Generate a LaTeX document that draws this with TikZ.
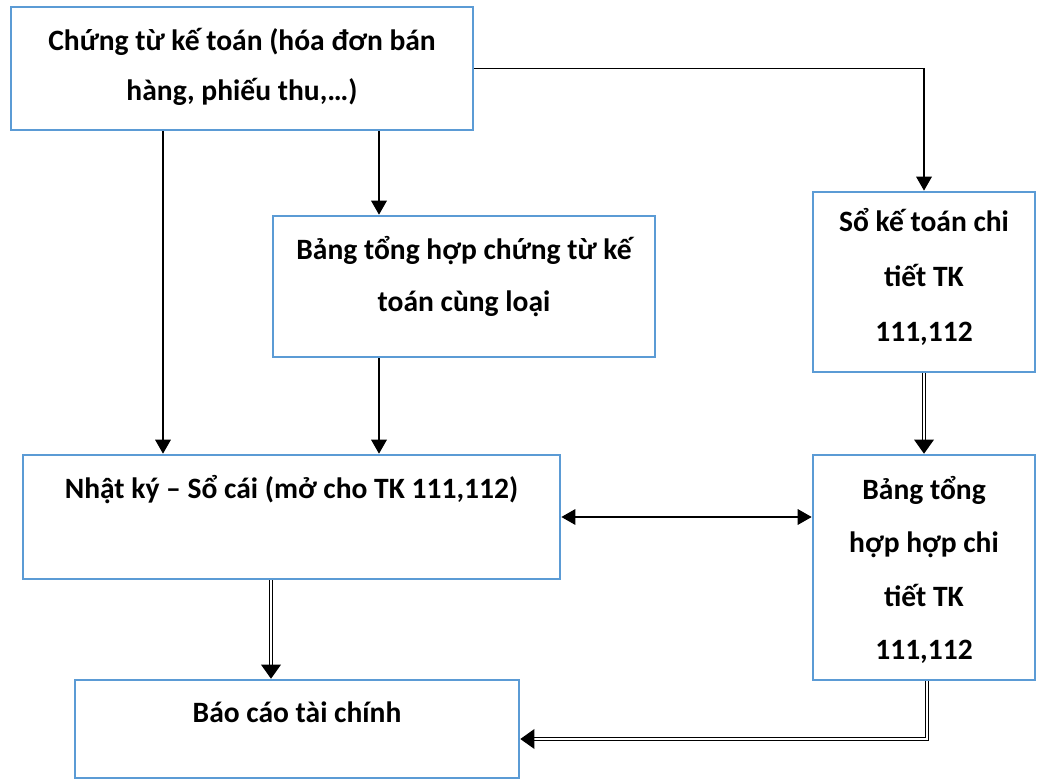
\documentclass[tikz,border=0pt]{standalone}
\usepackage{fontspec}
\setmainfont{Carlito}
\usepackage{tikz}
\usetikzlibrary{arrows.meta}
\definecolor{boxblue}{HTML}{5B9BD5}
\tikzset{
  acc_text/.style = {align=center, inner sep=0pt, text centered,
    font=\fontsize{21}{37}\selectfont\bfseries},% texte des cases
  acc_box/.style = {rectangle, draw=boxblue, line width=1.8pt},% case du schema
  single_arrow/.style = {draw=black, line width=1.4pt,
    -{Triangle[width=11pt,length=10pt]}},% fleche simple
  both_arrow/.style = {single_arrow, {Triangle[width=11pt,length=10pt]}-{Triangle[width=11pt,length=10pt]}},% fleche double sens
  double_arrow/.style = {draw=black, line width=1pt, double, double distance=1.4pt,
    -{Triangle[width=14pt,length=10pt]}}% fleche a trait double
}
\begin{document}
\begin{tikzpicture}[x=0.025cm, y=-0.025cm]
  \useasboundingbox (0,0) rectangle (1037,780);
  % cases
  \node [acc_box, minimum width=11.55cm, minimum height=3.075cm,
    label={[acc_text, font=\fontsize{21}{35.5}\selectfont\bfseries, yshift=0.03cm]center:{Chứng từ kế toán (hóa đơn bán\\hàng, phiếu thu,…)}}]
    (ctkt) at (242,68.5) {};
  \node [acc_box, minimum width=9.55cm, minimum height=3.525cm,
    label={[acc_text, yshift=0.25cm]center:{Bảng tổng hợp chứng từ kế\\toán cùng loại}}]
    (bthct) at (464,286.5) {};
  \node [acc_box, minimum width=5.55cm, minimum height=4.5cm,
    label={[acc_text, font=\fontsize{21}{39}\selectfont\bfseries, yshift=0.12cm]center:{Sổ kế toán chi\\tiết TK\\111,112}}]
    (sktt) at (924,282) {};
  \node [acc_box, minimum width=13.425cm, minimum height=3.1cm,
    label={[acc_text, yshift=0.68cm]center:{Nhật ký – Sổ cái (mở cho TK 111,112)}}]
    (nksc) at (291.5,517) {};
  \node [acc_box, minimum width=5.55cm, minimum height=5.625cm,
    label={[acc_text, font=\fontsize{21}{38}\selectfont\bfseries, yshift=-0.06cm]center:{Bảng tổng\\hợp hợp chi\\tiết TK\\111,112}}]
    (bthtt) at (924,567.5) {};
  \node [acc_box, minimum width=11.1cm, minimum height=2.45cm,
    label={[acc_text, yshift=0.42cm]center:{Báo cáo tài chính}}]
    (bctc) at (297,729) {};
  % points de passage
  \coordinate (c1) at (163,0);
  \coordinate (c2) at (379,0);
  \coordinate (c3) at (271,0);
  \coordinate (corner) at (927,739);
  % fleches
  \draw [single_arrow] (ctkt.south -| c1) -- (nksc.north -| c1);
  \draw [single_arrow] (ctkt.south -| c2) -- (bthct.north -| c2);
  \draw [single_arrow] (bthct.south -| c2) -- (nksc.north -| c2);
  \draw [line width=0.7pt] (ctkt.east) -- (ctkt.east -| sktt.north);
  \draw [single_arrow] (ctkt.east -| sktt.north) -- (sktt.north);
  \draw [double_arrow] (sktt.south) -- (bthtt.north);
  \draw [both_arrow] (nksc.east) -- (nksc.east -| bthtt.west);
  \draw [double_arrow] (nksc.south -| c3) -- (bctc.north -| c3);
  \draw [double_arrow] (bthtt.south -| corner) -- (corner) -- (corner -| bctc.east);
\end{tikzpicture}
\end{document}
